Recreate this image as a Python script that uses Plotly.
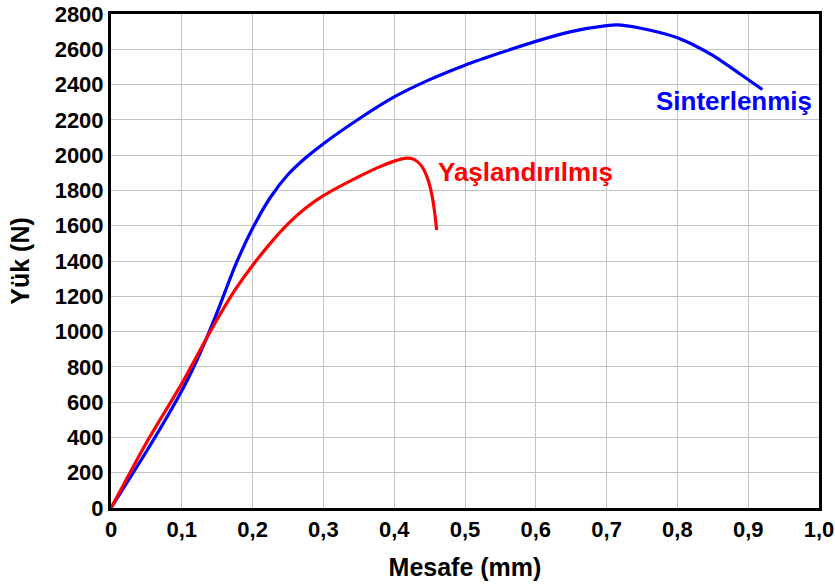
import plotly.graph_objects as go

# Load–displacement curves
sinter_x = [0, 0.05, 0.10, 0.125, 0.15, 0.175, 0.20, 0.225, 0.25, 0.275, 0.30,
            0.35, 0.40, 0.45, 0.50, 0.55, 0.60, 0.65, 0.70, 0.715, 0.75, 0.775,
            0.80, 0.825, 0.85, 0.885, 0.92]
sinter_y = [0, 320, 665, 870, 1110, 1370, 1585, 1760, 1890, 1985, 2065,
            2205, 2330, 2428, 2510, 2580, 2645, 2700, 2734, 2738, 2718, 2695,
            2665, 2620, 2565, 2470, 2372]

aged_x = [0, 0.05, 0.10, 0.135, 0.15, 0.175, 0.20, 0.225, 0.25, 0.275, 0.30,
          0.35, 0.38, 0.40, 0.415, 0.428, 0.438, 0.447, 0.453, 0.457, 0.46]
aged_y = [0, 370, 705, 962, 1070, 1235, 1375, 1500, 1610, 1700, 1770,
          1878, 1935, 1966, 1982, 1976, 1942, 1870, 1780, 1680, 1576]

x_ticks = [0, 0.1, 0.2, 0.3, 0.4, 0.5, 0.6, 0.7, 0.8, 0.9, 1.0]
x_tick_text = ["0", "0,1", "0,2", "0,3", "0,4", "0,5", "0,6", "0,7", "0,8", "0,9", "1,0"]
y_ticks = list(range(0, 2801, 200))

FONT = "Liberation Sans, Arial, sans-serif"

fig = go.Figure()
fig.add_trace(go.Scatter(x=sinter_x, y=sinter_y, mode="lines",
                         line=dict(color="#0000ff", width=3.2, shape="spline", smoothing=0.6),
                         showlegend=False, hoverinfo="skip"))
fig.add_trace(go.Scatter(x=aged_x, y=aged_y, mode="lines",
                         line=dict(color="#ff0000", width=3.2, shape="spline", smoothing=0.6),
                         showlegend=False, hoverinfo="skip"))

fig.add_annotation(x=0.88, y=2307, text="<b>Sinterlenmiş</b>", showarrow=False,
                   font=dict(family=FONT, size=26, color="#0000ff"))
fig.add_annotation(x=0.585, y=1905, text="<b>Yaşlandırılmış</b>", showarrow=False,
                   font=dict(family=FONT, size=26, color="#ff0000"))

fig.update_layout(
    width=835, height=586,
    margin=dict(l=111, r=16, t=14, b=78),
    paper_bgcolor="white", plot_bgcolor="white",
    font=dict(family=FONT, color="black"),
    xaxis=dict(range=[0, 1.0], tickvals=x_ticks, ticktext=x_tick_text,
               automargin=False,
               showgrid=True, gridcolor="#c4c4c4", gridwidth=1,
               showline=True, linecolor="black", linewidth=3, mirror=True,
               zeroline=False, ticks="",
               tickfont=dict(family=FONT, size=22, color="black", weight="bold"),
               title=dict(text="<b>Mesafe (mm)</b>", font=dict(family=FONT, size=25),
                          standoff=18)),
    yaxis=dict(range=[0, 2800], tickvals=y_ticks, automargin=False,
               showgrid=True, gridcolor="#c4c4c4", gridwidth=1,
               showline=True, linecolor="black", linewidth=3, mirror=True,
               zeroline=False, ticks="",
               tickfont=dict(family=FONT, size=22, color="black", weight="bold"),
               title=dict(text="<b>Yük (N)</b>", font=dict(family=FONT, size=25),
                          standoff=18)),
)

fig.write_html("out.html")
